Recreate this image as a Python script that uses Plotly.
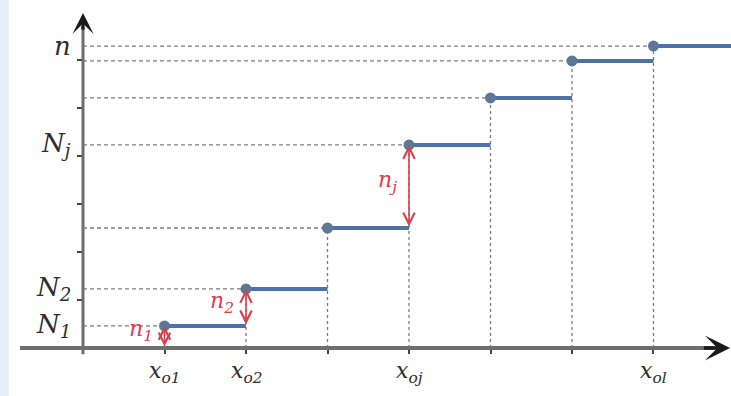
import plotly.graph_objects as go

# ---- data ----
step_x = [1, 2, 3, 4, 5, 6, 7]                      # positions of x_o1 ... x_ol
step_levels = [0.46, 1.23, 2.50, 4.23, 5.21, 5.98, 6.29]  # cumulative levels N_1 ... n
x_labels = {1: "o1", 2: "o2", 4: "oj", 7: "ol"}
y_labels = {0: ("N", "1"), 1: ("N", "2"), 3: ("N", "j"), 6: ("n", "")}
jump_labels = {0: "1", 1: "2", 3: "j"}
y_tick_vals = [1, 2, 3, 4, 5, 6]

x_min_line = -0.77
x_max = 7.951
x_min = -1.0184
y_min, y_max = -1.0, 7.25

STEP = "#4d72a3"
DOT = "#5c7896"
DASH = "#7c7c7c"
RED = "#d9404c"
AX = "#6e6e6e"
TXT = "#2e2e2e"
FONT = "DejaVu Serif"

fig = go.Figure()

# dashed guides
hx, hy, vx, vy = [], [], [], []
for x, lv in zip(step_x, step_levels):
    hx += [0, x, None]; hy += [lv, lv, None]
    vx += [x, x, None]; vy += [0, lv, None]
fig.add_trace(go.Scatter(x=hx, y=hy, mode="lines",
                         line=dict(color=DASH, width=1.3, dash="4px,3px"), hoverinfo="skip"))
fig.add_trace(go.Scatter(x=vx, y=vy, mode="lines",
                         line=dict(color=DASH, width=1.3, dash="3px,3px"), hoverinfo="skip"))

# axis lines
fig.add_shape(type="line", x0=x_min_line, x1=7.75, y0=0, y1=0,
              line=dict(color=AX, width=4))
fig.add_shape(type="line", x0=0, x1=0, y0=-0.13, y1=6.7,
              line=dict(color=AX, width=3))

# step segments (horizontal only)
sx, sy = [x_min_line, step_x[0], None], [0, 0, None]
ends = step_x[1:] + [x_max]
for x0, x1, lv in zip(step_x, ends, step_levels):
    sx += [x0, x1, None]; sy += [lv, lv, None]
fig.add_trace(go.Scatter(x=sx, y=sy, mode="lines",
                         line=dict(color=STEP, width=4), hoverinfo="skip"))
fig.add_trace(go.Scatter(x=step_x, y=step_levels, mode="markers",
                         marker=dict(color=DOT, size=11), hoverinfo="skip"))

ann = []
# axis arrowheads
ann.append(dict(x=7.94, y=0, ax=7.6, ay=0, xref="x", yref="y", axref="x", ayref="y",
                showarrow=True, arrowhead=3, arrowsize=1.2, arrowwidth=3.5,
                arrowcolor="#1a1a1a", text=""))
ann.append(dict(x=0, y=6.98, ax=0, ay=6.6, xref="x", yref="y", axref="x", ayref="y",
                showarrow=True, arrowhead=3, arrowsize=1.1, arrowwidth=3.2,
                arrowcolor="#1a1a1a", text=""))

# red double arrows and labels
for i, sub in jump_labels.items():
    lo = step_levels[i - 1] if i > 0 else 0
    hi = step_levels[i]
    ann.append(dict(x=step_x[i], y=hi, ax=step_x[i], ay=lo, xref="x", yref="y",
                    axref="x", ayref="y", showarrow=True, arrowhead=5,
                    startarrowhead=5, arrowside="end+start", arrowsize=1.4,
                    startarrowsize=1.4, arrowwidth=1.6, arrowcolor=RED, text="",
                    standoff=0, startstandoff=0))
    ann.append(dict(x=step_x[i] - 0.12, y=(lo + hi) / 2 + (0.14 if i == 0 else 0.1),
                    xref="x", yref="y", showarrow=False, xanchor="right",
                    text=f"<i>n</i><sub><i>{sub}</i></sub>",
                    font=dict(family=FONT, size=22, color=RED)))

# y labels
for i, (base, sub) in y_labels.items():
    t = f"<i>{base}</i>" + (f"<sub><i>{sub}</i></sub>" if sub else "")
    ann.append(dict(x=-0.12, y=step_levels[i], xref="x", yref="y", showarrow=False,
                    xanchor="right", yanchor="middle", text=t,
                    font=dict(family=FONT, size=26, color=TXT)))
# x labels
for xv, sub in x_labels.items():
    ann.append(dict(x=xv, y=-0.52, xref="x", yref="y", showarrow=False,
                    xanchor="center", yanchor="middle",
                    text=f"<i>x</i><sub><i>{sub}</i></sub>",
                    font=dict(family=FONT, size=22, color=TXT)))

fig.update_layout(
    width=731, height=396,
    margin=dict(l=0, r=0, t=0, b=0, pad=0, autoexpand=False),
    paper_bgcolor="white", plot_bgcolor="white", showlegend=False,
    annotations=ann,
    xaxis=dict(range=[x_min, x_max], showgrid=False, zeroline=False, showline=False,
               tickvals=step_x, ticks="outside", ticklen=5, tickwidth=1.5,
               tickcolor="#444", showticklabels=False, anchor="free",
               position=48 / 396, fixedrange=True, automargin=False),
    yaxis=dict(range=[y_min, y_max], showgrid=False, zeroline=False, showline=False,
               tickvals=y_tick_vals, ticks="outside", ticklen=6, tickwidth=1.5,
               tickcolor="#444", showticklabels=False, anchor="free",
               position=83 / 731, fixedrange=True, automargin=False),
)
fig.add_shape(type="rect", xref="paper", yref="paper", x0=0, x1=0.012, y0=0, y1=1,
              fillcolor="#e4eff9", line=dict(width=0), layer="below")

fig.write_html("out.html", config={"displayModeBar": False},
               post_script="document.body.style.margin='0';document.body.style.overflow='hidden';")
